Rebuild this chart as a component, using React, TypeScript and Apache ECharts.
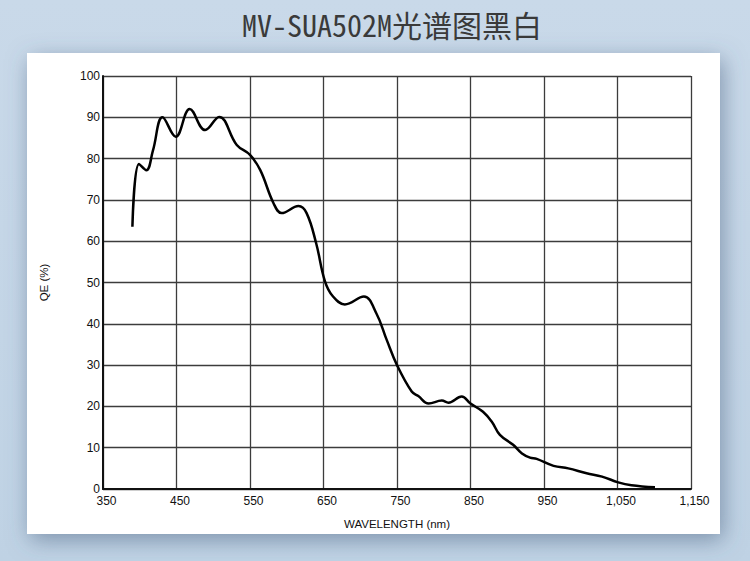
import React, { useEffect, useRef } from "react";
import * as echarts from "echarts";

const TITLE = "MV-SUA502M光谱图黑白";
const X_NAME = "WAVELENGTH (nm)";
const Y_NAME = "QE (%)";

const wavelengths = [
  390, 399, 409, 418, 431, 449, 468, 489, 508, 532, 550, 564, 582, 593, 616,
  627, 640, 652, 663, 679, 705, 722, 736, 750, 770, 779, 793, 811, 820, 838,
  850, 867, 879, 890, 908, 920, 931, 940, 963, 983, 1008, 1029, 1051, 1069, 1101,
];
const qe = [
  63.5, 78.7, 77.2, 82, 90, 85.3, 92, 86.9, 90.1, 83.3, 80.9, 77.2, 69.2, 66.8,
  68.5, 66.8, 59.5, 50.3, 46.6, 44.7, 46.6, 42.5, 36.1, 30, 23.6, 22.5, 20.7,
  21.4, 20.9, 22.4, 20.7, 18.7, 16.3, 13.1, 10.7, 8.6, 7.6, 7.3, 5.6, 5.0, 3.8,
  3.0, 1.6, 0.9, 0.4,
];

const X_MIN = 350;
const X_MAX = 1150;
const X_STEP = 100;
const Y_MIN = 0;
const Y_MAX = 100;
const Y_STEP = 10;

const fmtX = (v: number) => (v >= 1000 ? v.toLocaleString("en-US") : String(v));

export default function App() {
  const ref = useRef<HTMLDivElement>(null);
  useEffect(() => {
    if (!ref.current) return;
    const chart = echarts.init(ref.current, undefined, { renderer: "svg" });
    const font = "'Liberation Sans', Arial, Helvetica, sans-serif";
    chart.setOption({
      animation: false,
      backgroundColor: {
        type: "linear",
        x: 0,
        y: 0,
        x2: 0,
        y2: 1,
        colorStops: [
          { offset: 0, color: "#c9d9e9" },
          { offset: 1, color: "#bfd2e4" },
        ],
      },
      title: {
        text: TITLE,
        left: 237,
        top: 4,
        textStyle: {
          fontFamily: "'Noto Sans Mono CJK SC', 'Noto Sans CJK SC', monospace",
          fontSize: 30,
          fontWeight: "normal",
          color: "#3a3a3a",
        },
      },
      graphic: [
        {
          type: "rect",
          z: -10,
          shape: { x: 27, y: 53, width: 693, height: 481 },
          style: {
            fill: "#ffffff",
            shadowBlur: 22,
            shadowColor: "rgba(70,95,125,0.55)",
            shadowOffsetX: 3,
            shadowOffsetY: 6,
          },
        },
      ],
      grid: { left: 103, right: 59, top: 76, bottom: 72, containLabel: false },
      xAxis: {
        type: "value",
        min: X_MIN,
        max: X_MAX,
        interval: X_STEP,
        name: X_NAME,
        nameLocation: "middle",
        nameGap: 29,
        nameTextStyle: { fontFamily: font, fontSize: 11.5, color: "#111" },
        axisLine: { show: true, lineStyle: { color: "#111", width: 2 } },
        axisTick: { show: false },
        axisLabel: {
          fontFamily: font,
          fontSize: 12,
          color: "#111",
          margin: 6,
          padding: [0, 0, 0, 7],
          formatter: fmtX,
        },
        splitLine: { show: true, lineStyle: { color: "#3c3c3c", width: 1.3 } },
      },
      yAxis: {
        type: "value",
        min: Y_MIN,
        max: Y_MAX,
        interval: Y_STEP,
        name: Y_NAME,
        nameLocation: "middle",
        nameGap: 53,
        nameRotate: 90,
        nameTextStyle: { fontFamily: font, fontSize: 11.5, color: "#111" },
        axisLine: { show: true, lineStyle: { color: "#111", width: 2 } },
        axisTick: { show: false },
        axisLabel: {
          fontFamily: font,
          fontSize: 12,
          color: "#111",
          margin: 3,
          padding: [0, 0, 9, 0],
        },
        splitLine: { show: true, lineStyle: { color: "#3c3c3c", width: 1.3 } },
      },
      series: [
        {
          type: "line",
          data: wavelengths.map((w, i) => [w, qe[i]]),
          smooth: 0.4,
          symbol: "none",
          lineStyle: { color: "#000", width: 2.5 },
        },
      ],
    });
    return () => chart.dispose();
  }, []);
  return (
    <div
      ref={ref}
      style={{ position: "fixed", left: 0, top: 0, width: 750, height: 561 }}
    />
  );
}
